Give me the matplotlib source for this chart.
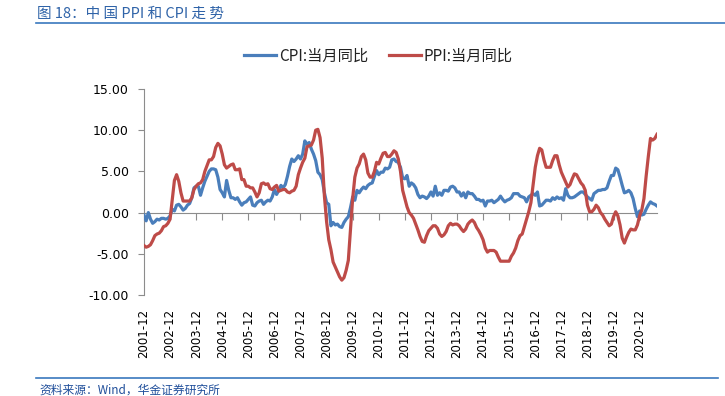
import matplotlib
matplotlib.use("Agg")
import matplotlib.pyplot as plt
from matplotlib.lines import Line2D

plt.rcParams["font.family"] = ["DejaVu Sans", "Noto Sans CJK SC"]

# 月度数据：2001-12 至 2021-08（%，当月同比）
cpi = [
    -0.3,
    -1.0, 0.0, -0.8, -1.3, -1.1, -0.8, -0.9, -0.7, -0.7, -0.8, -0.7, -0.4,   # 2002
    0.4, 0.2, 0.9, 1.0, 0.7, 0.3, 0.5, 0.9, 1.1, 1.8, 3.0, 3.2,              # 2003
    3.2, 2.1, 3.0, 3.8, 4.4, 5.0, 5.3, 5.3, 5.2, 4.3, 2.8, 2.4,              # 2004
    1.9, 3.9, 2.7, 1.8, 1.8, 1.6, 1.8, 1.3, 0.9, 1.2, 1.3, 1.6,              # 2005
    1.9, 0.9, 0.8, 1.2, 1.4, 1.5, 1.0, 1.3, 1.5, 1.4, 1.9, 2.8,              # 2006
    2.2, 2.7, 3.3, 3.0, 3.4, 4.4, 5.6, 6.5, 6.2, 6.5, 6.9, 6.5,              # 2007
    7.1, 8.7, 8.3, 8.5, 7.7, 7.1, 6.3, 4.9, 4.6, 4.0, 2.4, 1.2,              # 2008
    1.0, -1.6, -1.2, -1.5, -1.4, -1.7, -1.8, -1.2, -0.8, -0.5, 0.6, 1.9,     # 2009
    1.5, 2.7, 2.4, 2.8, 3.1, 2.9, 3.3, 3.5, 3.6, 4.4, 5.1, 4.6,              # 2010
    4.9, 4.9, 5.4, 5.3, 5.5, 6.4, 6.5, 6.2, 6.1, 5.5, 4.2, 4.1,              # 2011
    4.5, 3.2, 3.6, 3.4, 3.0, 2.2, 1.8, 2.0, 1.9, 1.7, 2.0, 2.5,              # 2012
    2.0, 3.2, 2.1, 2.4, 2.1, 2.7, 2.7, 2.6, 3.1, 3.2, 3.0, 2.5,              # 2013
    2.5, 2.0, 2.4, 1.8, 2.5, 2.3, 2.3, 2.0, 1.6, 1.6, 1.4, 1.5,              # 2014
    0.8, 1.4, 1.4, 1.5, 1.2, 1.4, 1.6, 2.0, 1.6, 1.3, 1.5, 1.6,              # 2015
    1.8, 2.3, 2.3, 2.3, 2.0, 1.9, 1.8, 1.3, 1.9, 2.1, 2.3, 2.1,              # 2016
    2.5, 0.8, 0.9, 1.2, 1.5, 1.5, 1.4, 1.8, 1.6, 1.9, 1.7, 1.8,              # 2017
    1.5, 2.9, 2.1, 1.8, 1.8, 1.9, 2.1, 2.3, 2.5, 2.5, 2.2, 1.9,              # 2018
    1.7, 1.5, 2.3, 2.5, 2.7, 2.7, 2.8, 2.8, 3.0, 3.8, 4.5, 4.5,              # 2019
    5.4, 5.2, 4.3, 3.3, 2.4, 2.5, 2.7, 2.4, 1.7, 0.5, -0.5, 0.2,             # 2020
    -0.3, -0.2, 0.4, 0.9, 1.3, 1.1, 1.0, 0.8,                                # 2021
]

ppi = [
    -4.0,
    -4.2, -4.1, -3.9, -3.4, -2.8, -2.6, -2.5, -2.2, -1.7, -1.6, -1.3, -0.8,  # 2002
    1.5, 3.9, 4.6, 3.8, 2.4, 1.4, 1.4, 1.4, 1.4, 1.8, 2.8, 3.2,              # 2003
    3.5, 3.6, 4.0, 5.0, 5.7, 6.4, 6.4, 6.8, 7.9, 8.4, 8.1, 7.1,              # 2004
    5.8, 5.4, 5.6, 5.8, 5.9, 5.2, 5.2, 5.3, 4.0, 4.0, 3.2, 3.2,              # 2005
    3.0, 3.0, 2.5, 1.9, 2.4, 3.5, 3.6, 3.4, 3.5, 2.9, 2.8, 3.1,              # 2006
    3.3, 2.6, 2.7, 2.8, 2.8, 2.5, 2.4, 2.6, 2.7, 3.2, 4.6, 5.4,              # 2007
    6.1, 6.6, 8.0, 8.1, 8.2, 8.8, 10.0, 10.1, 9.1, 6.6, 2.0, -1.1,           # 2008
    -3.3, -4.5, -6.0, -6.6, -7.2, -7.8, -8.2, -7.9, -7.0, -5.8, -2.1, 1.7,   # 2009
    4.3, 5.4, 5.9, 6.8, 7.1, 6.4, 4.8, 4.3, 4.3, 5.0, 6.1, 5.9,              # 2010
    6.6, 7.2, 7.3, 6.8, 6.8, 7.1, 7.5, 7.3, 6.5, 5.0, 2.7, 1.7,              # 2011
    0.7, 0.0, -0.3, -0.7, -1.4, -2.1, -2.9, -3.5, -3.6, -2.8, -2.2, -1.9,    # 2012
    -1.6, -1.6, -1.9, -2.6, -2.9, -2.7, -2.3, -1.6, -1.3, -1.5, -1.4, -1.4,  # 2013
    -1.6, -2.0, -2.3, -2.0, -1.4, -1.1, -0.9, -1.2, -1.8, -2.2, -2.7, -3.3,  # 2014
    -4.3, -4.8, -4.6, -4.6, -4.6, -4.8, -5.4, -5.9, -5.9, -5.9, -5.9, -5.9,  # 2015
    -5.3, -4.9, -4.3, -3.4, -2.8, -2.6, -1.7, -0.8, 0.1, 1.2, 3.3, 5.5,      # 2016
    6.9, 7.8, 7.6, 6.4, 5.5, 5.5, 5.5, 6.3, 6.9, 6.9, 5.8, 4.9,              # 2017
    4.3, 3.7, 3.1, 3.4, 4.1, 4.7, 4.6, 4.1, 3.6, 3.3, 2.7, 0.9,              # 2018
    0.1, 0.1, 0.4, 0.9, 0.6, 0.0, -0.3, -0.8, -1.2, -1.6, -1.4, -0.5,        # 2019
    0.1, -0.4, -1.5, -3.1, -3.7, -3.0, -2.4, -2.0, -2.1, -2.1, -1.5, -0.4,   # 2020
    0.3, 1.7, 4.4, 6.8, 9.0, 8.8, 9.0, 9.5,                                  # 2021
]

tick_labels = ["2001-12", "2002-12", "2003-12", "2004-12", "2005-12",
               "2006-12", "2007-12", "2008-12", "2009-12", "2010-12",
               "2011-12", "2012-12", "2013-12", "2014-12", "2015-12",
               "2016-12", "2017-12", "2018-12", "2019-12", "2020-12"]

BLUE = "#4A7EBB"
RED = "#BE4B48"
GRID = "#8C8C8C"
CJK = ["Noto Sans CJK SC", "DejaVu Sans"]

fig = plt.figure(figsize=(7.25, 3.96), dpi=100)
ax = fig.add_axes([0.1986, 0.2551, 0.7076, 0.5202])

x = list(range(len(cpi)))
ax.plot(x, cpi, color=BLUE, linewidth=2.3, solid_joinstyle="round", zorder=3)
ax.plot(x, ppi, color=RED, linewidth=2.3, solid_joinstyle="round", zorder=3)

ax.set_xlim(0, len(cpi) - 1)
ax.set_ylim(-10, 15)
ax.set_yticks([-10, -5, 0, 5, 10, 15])
ax.set_yticklabels([f"{v:.2f}" for v in [-10, -5, 0, 5, 10, 15]])

for s in ["top", "right"]:
    ax.spines[s].set_visible(False)
ax.spines["left"].set_color(GRID)
ax.spines["bottom"].set_color(GRID)
ax.spines["bottom"].set_position(("data", 0))
ax.tick_params(axis="y", direction="out", length=4, color=GRID, labelsize=9,
               pad=7, labelcolor="black")

xt = [i * 12 for i in range(len(tick_labels))]
ax.set_xticks(xt)
ax.tick_params(axis="x", direction="out", length=5, color=GRID, labelbottom=False)

sec = ax.secondary_xaxis("bottom")
sec.spines["bottom"].set_visible(False)
sec.set_xticks(xt)
sec.set_xticklabels(tick_labels, rotation=90)
sec.tick_params(length=0, pad=10, labelsize=8.5)

handles = [Line2D([], [], color=BLUE, linewidth=2.3),
           Line2D([], [], color=RED, linewidth=2.3)]
fig.legend(handles, ["CPI:当月同比", "PPI:当月同比"], loc="center",
           bbox_to_anchor=(0.522, 0.859), ncol=2, frameon=False,
           prop={"family": CJK, "size": 11}, handlelength=2.1,
           handletextpad=0.15, columnspacing=1.4, labelcolor="#222222")

# 标题与来源
fig.text(0.051, 0.965, "图 18：中 国 PPI 和 CPI 走 势", family=CJK, fontsize=10.5,
         color="#2F63A8", va="center", ha="left")
fig.add_artist(Line2D([0.05, 1.0], [0.942, 0.942], color="#3A78BE", linewidth=1.2))
fig.add_artist(Line2D([0.05, 0.99], [0.045, 0.045], color="#3A78BE", linewidth=1.2))
fig.text(0.055, 0.015, "资料来源：Wind，华金证券研究所", family=CJK, fontsize=8.5,
         color="#1F4E9A", style="italic", va="center", ha="left")

fig.savefig("out.png", dpi=100)
